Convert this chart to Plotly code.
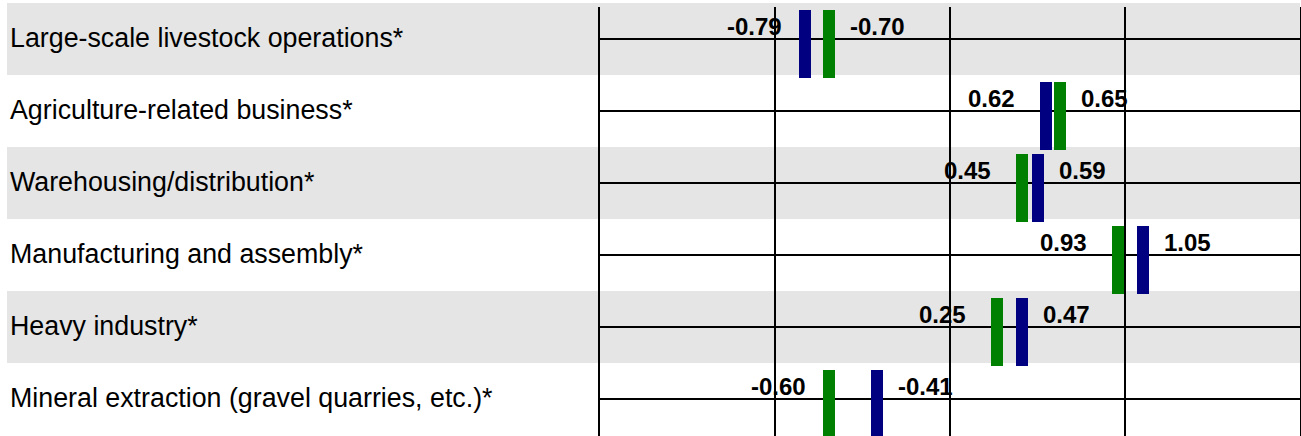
import plotly.graph_objects as go

# ---- data ----
categories = [
    "Large-scale livestock operations*",
    "Agriculture-related business*",
    "Warehousing/distribution*",
    "Manufacturing and assembly*",
    "Heavy industry*",
    "Mineral extraction (gravel quarries, etc.)*",
]
# bar positions as drawn on the axis (gridlines one unit apart)
blue_pos = [-0.83, 0.55, 0.50, 1.10, 0.41, -0.42]
green_pos = [-0.69, 0.63, 0.41, 0.96, 0.27, -0.69]
# printed labels
blue_labels = ["-0.79", "0.62", "0.59", "1.05", "0.47", "-0.41"]
green_labels = ["-0.70", "0.65", "0.45", "0.93", "0.25", "-0.60"]

BLUE = "#000080"
GREEN = "#008000"
BAND = "#E5E5E5"
FONT = "Liberation Sans, Arial, sans-serif"

W, H = 1301, 436
L, R, T, B = 600, 1, 7, 0
ROW_PX = 72.0
FIRST_ROW_TOP_PX = 3          # top edge of the first shaded row
plot_h = H - T - B
y_top = -0.5 + (T - FIRST_ROW_TOP_PX) / ROW_PX
y_bot = y_top + plot_h / ROW_PX
x_range = [-2, 2]
px_per_unit = (W - L - R) / (x_range[1] - x_range[0])


def y_to_paper(v):
    return (y_bot - v) / (y_bot - y_top)


idx = list(range(len(categories)))
bar_len = 68 / ROW_PX
bar_start = -29 / ROW_PX
bar_w = 12 / px_per_unit

fig = go.Figure()
for pos, col in ((blue_pos, BLUE), (green_pos, GREEN)):
    fig.add_trace(go.Bar(
        x=pos, y=[bar_len] * len(idx), base=[i + bar_start for i in idx],
        width=bar_w, orientation="v", marker=dict(color=col, line=dict(width=0)),
        hoverinfo="skip", showlegend=False,
    ))

shapes = []
for i in idx:
    if i % 2 == 0:
        shapes.append(dict(type="rect", layer="below", xref="paper", yref="paper",
                           x0=(7 - L) / (W - L - R), x1=1,
                           y0=y_to_paper(i + 0.5), y1=y_to_paper(i - 0.5),
                           fillcolor=BAND, line=dict(width=0)))

annotations = []
for i, cat in zip(idx, categories):
    annotations.append(dict(text=cat, xref="paper", yref="y",
                            x=(8 - L) / (W - L - R), y=i, xanchor="left", yanchor="middle",
                            showarrow=False, yshift=1,
                            font=dict(family=FONT, size=26.8, color="black")))

for i in idx:
    pairs = [(blue_pos[i], blue_labels[i]), (green_pos[i], green_labels[i])]
    pairs.sort(key=lambda p: p[0])
    (lp, lt), (rp, rt) = pairs
    left_shift = -21 if lt.startswith("-") else -29
    annotations.append(dict(text="<b>%s</b>" % lt, xref="x", yref="y", x=lp, y=i,
                            xanchor="right", yanchor="middle", xshift=left_shift, yshift=13,
                            showarrow=False, font=dict(family=FONT, size=24, color="black")))
    annotations.append(dict(text="<b>%s</b>" % rt, xref="x", yref="y", x=rp, y=i,
                            xanchor="left", yanchor="middle", xshift=19, yshift=13,
                            showarrow=False, font=dict(family=FONT, size=24, color="black")))

fig.update_layout(
    width=W, height=H, autosize=False,
    margin=dict(l=L, r=R, t=T, b=B, pad=0),
    paper_bgcolor="white", plot_bgcolor="white",
    barmode="overlay", bargap=0,
    shapes=shapes, annotations=annotations,
    xaxis=dict(range=x_range, tickvals=[-1, 0, 1], showticklabels=False, ticks="",
               showgrid=True, gridcolor="black", gridwidth=2, zeroline=False,
               showline=False, fixedrange=True),
    yaxis=dict(range=[y_bot, y_top], tickvals=idx, showticklabels=False, ticks="",
               showgrid=True, gridcolor="black", gridwidth=2, zeroline=False,
               showline=True, mirror=True, linecolor="black", linewidth=2,
               fixedrange=True),
)

fig.write_html(
    "out.html",
    config={"displayModeBar": False},
    post_script="document.body.style.margin='0';document.body.style.overflow='hidden';",
)
